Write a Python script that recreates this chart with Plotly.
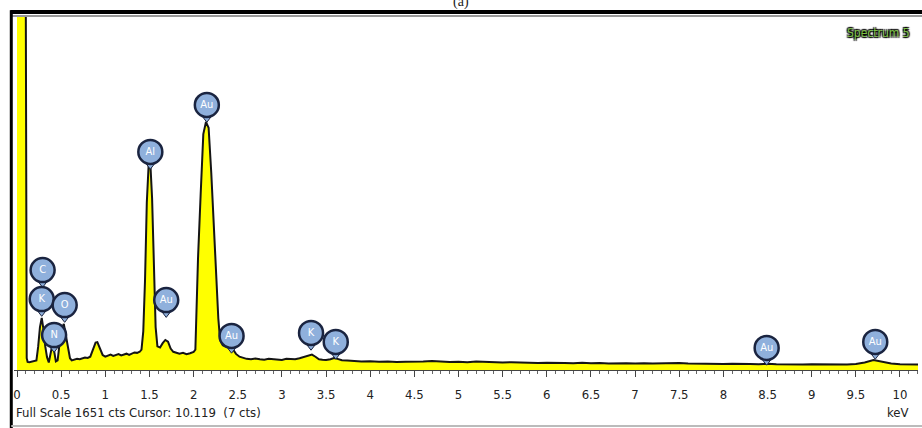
import plotly.graph_objects as go

# Spectrum (keV, counts)
energy_kev = [0.00, 0.10, 0.11, 0.12, 0.14, 0.16, 0.18, 0.20, 0.22, 0.24, 0.26, 0.28, 0.30, 0.32, 0.34,
              0.36, 0.38, 0.40, 0.42, 0.44, 0.46, 0.48, 0.50, 0.53, 0.56, 0.58, 0.60, 0.62, 0.65, 0.68,
              0.71, 0.74, 0.77, 0.80, 0.83, 0.86, 0.89, 0.91, 0.94, 0.97, 1.00, 1.03, 1.06, 1.09, 1.12,
              1.15, 1.18, 1.21, 1.24, 1.27, 1.30, 1.33, 1.36, 1.39, 1.41, 1.43, 1.45, 1.47, 1.49, 1.51,
              1.53, 1.55, 1.57, 1.59, 1.62, 1.65, 1.68, 1.71, 1.74, 1.77, 1.80, 1.84, 1.88, 1.92, 1.96,
              2.00, 2.02, 2.03, 2.05, 2.08, 2.11, 2.14, 2.17, 2.20, 2.23, 2.26, 2.28, 2.30, 2.33, 2.36,
              2.40, 2.44, 2.48, 2.52, 2.56, 2.60, 2.65, 2.70, 2.75, 2.80, 2.85, 2.90, 2.95, 3.00, 3.05,
              3.10, 3.15, 3.20, 3.25, 3.30, 3.34, 3.38, 3.42, 3.46, 3.50, 3.55, 3.59, 3.63, 3.68, 3.74,
              3.80, 3.90, 4.00, 4.10, 4.20, 4.30, 4.40, 4.50, 4.60, 4.70, 4.80, 4.90, 5.00, 5.10, 5.20,
              5.30, 5.40, 5.50, 5.60, 5.70, 5.80, 5.90, 6.00, 6.10, 6.20, 6.30, 6.40, 6.50, 6.60, 6.70,
              6.80, 6.90, 7.00, 7.10, 7.20, 7.30, 7.40, 7.50, 7.60, 7.70, 7.80, 7.90, 8.00, 8.10, 8.20,
              8.30, 8.40, 8.50, 8.60, 8.70, 8.80, 8.90, 9.00, 9.10, 9.20, 9.30, 9.40, 9.50, 9.60, 9.70,
              9.80, 9.90, 10.00, 10.10, 10.20, 10.25]
counts = [1651, 1651, 55, 38, 36, 38, 40, 42, 45, 110, 200, 243, 190, 110, 60,
          35, 80, 117, 90, 40, 45, 120, 185, 215, 150, 90, 55, 45, 48, 52,
          50, 55, 58, 56, 62, 95, 128, 130, 100, 70, 62, 68, 72, 66, 70,
          74, 68, 72, 76, 70, 78, 82, 80, 85, 95, 180, 420, 780, 950, 965,
          800, 450, 200, 110, 105, 125, 140, 132, 100, 85, 80, 76, 80, 74, 78,
          84, 95, 240, 520, 820, 1100, 1157, 1130, 920, 660, 420, 240, 140, 115, 110,
          108, 100, 75, 62, 56, 52, 50, 54, 50, 48, 52, 50, 49, 47, 52,
          50, 50, 55, 60, 68, 72, 62, 50, 48, 47, 50, 56, 52, 46, 44,
          42, 40, 41, 38, 40, 37, 39, 38, 40, 42, 38, 37, 39, 36, 40,
          38, 37, 35, 36, 34, 35, 33, 34, 32, 33, 32, 34, 31, 33, 30,
          32, 31, 30, 32, 30, 31, 29, 33, 30, 29, 28, 30, 28, 29, 27,
          28, 27, 29, 27, 26, 28, 26, 27, 26, 25, 27, 26, 28, 35, 47,
          40, 30, 27, 26, 25, 26]

# Element markers (label, keV, counts position)
label_names = ["C", "K", "N", "O", "Al", "Au", "Au", "Au", "K", "K", "Au", "Au"]
label_kev = [0.29, 0.28, 0.42, 0.54, 1.51, 2.15, 1.69, 2.43, 3.33, 3.61, 8.49, 9.72]
label_cts = [466, 331, 163, 303, 1017, 1236, 326, 159, 173, 131, 103, 131]
stem_offset_cts = 62

tick_vals = [0, 0.5, 1, 1.5, 2, 2.5, 3, 3.5, 4, 4.5, 5, 5.5, 6, 6.5, 7, 7.5, 8, 8.5, 9, 9.5, 10]
tick_text = ["0", "0.5", "1", "1.5", "2", "2.5", "3", "3.5", "4", "4.5", "5", "5.5", "6", "6.5",
             "7", "7.5", "8", "8.5", "9", "9.5", "10"]

FONT = "DejaVu Sans Condensed, Liberation Sans Narrow, DejaVu Sans, sans-serif"

fig = go.Figure()
fig.add_trace(go.Scatter(
    x=energy_kev, y=counts, mode="lines",
    line=dict(color="#151515", width=2),
    fill="tozeroy", fillcolor="#ffff00",
    hoverinfo="skip", showlegend=False,
))
# small pin stems under the element circles
fig.add_trace(go.Scatter(
    x=label_kev, y=[c - stem_offset_cts for c in label_cts], mode="markers",
    marker=dict(symbol="triangle-down", size=8, color="#8fb0dc", line=dict(color="#1a2440", width=1)),
    hoverinfo="skip", showlegend=False, cliponaxis=False,
))
fig.add_trace(go.Scatter(
    x=label_kev, y=label_cts, mode="markers+text",
    text=label_names, textposition="middle center",
    textfont=dict(color="white", size=11, family=FONT),
    marker=dict(size=24, color="#8fb0dc", line=dict(color="#1a2440", width=2.5)),
    hoverinfo="skip", showlegend=False, cliponaxis=False,
))

fig.update_layout(
    width=922, height=428,
    margin=dict(l=14, r=4, t=16, b=58, autoexpand=False),
    paper_bgcolor="white", plot_bgcolor="white",
    font=dict(family=FONT, size=13, color="#222"),
    xaxis=dict(
        range=[-0.034, 10.204], tickvals=tick_vals, ticktext=tick_text, automargin=False,
        showgrid=False, zeroline=False, showline=True, linecolor="#444", linewidth=1,
        ticks="outside", ticklen=6, tickcolor="#444", ticklabelstandoff=6,
        minor=dict(ticks="outside", ticklen=3, dtick=0.1, tickcolor="#666", showgrid=False),
    ),
    yaxis=dict(range=[0, 1651], visible=False, showgrid=False, zeroline=False),
)

# frame lines
fig.add_shape(type="line", xref="paper", yref="paper", x0=-0.004, x1=1.01, y0=1.011, y1=1.011,
              line=dict(color="black", width=4))
fig.add_shape(type="line", xref="paper", yref="paper", x0=-0.004, x1=1.01, y0=1.0, y1=1.0,
              line=dict(color="#999", width=2))
fig.add_shape(type="line", xref="paper", yref="paper", x0=-0.003, x1=-0.003, y0=1.016, y1=-0.17,
              line=dict(color="black", width=3))
fig.add_shape(type="line", xref="paper", yref="paper", x0=-0.003, x1=1.01, y0=-0.158, y1=-0.158,
              line=dict(color="#bbb", width=2))

fig.add_annotation(text="Full Scale 1651 cts Cursor: 10.119  (7 cts)", xref="paper", yref="paper",
                   x=0.0, y=-0.121, xanchor="left", yanchor="middle", showarrow=False,
                   font=dict(size=13, color="#222", family=FONT))
fig.add_annotation(text="keV", xref="paper", yref="paper", x=0.992, y=-0.121, xanchor="right",
                   yanchor="middle", showarrow=False, font=dict(size=13, color="#222", family=FONT))
fig.add_annotation(text="Spectrum 5", xref="paper", yref="paper", x=0.956, y=0.952,
                   xanchor="center", yanchor="middle", showarrow=False,
                   font=dict(size=12, color="#7cc043", family=FONT,
                             shadow="1px 1px 1px #000, -1px -1px 1px #000, 1px -1px 1px #000, -1px 1px 1px #000"))
fig.add_annotation(text="(a)", xref="paper", yref="paper", x=0.495, y=1.04, xanchor="center",
                   yanchor="middle", showarrow=False, font=dict(size=14, color="#222", family="Liberation Serif"))

fig.write_html("out.html", config={"displayModeBar": False},
               post_script="document.body.style.margin='0';document.body.style.padding='0';")
